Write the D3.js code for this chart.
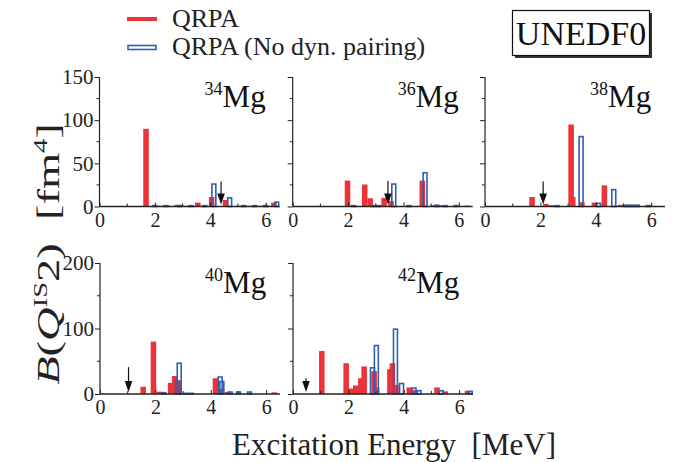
<!DOCTYPE html>
<html><head><meta charset="utf-8">
<script src="https://cdn.jsdelivr.net/npm/d3@7"></script>
<style>
html,body{margin:0;padding:0;background:#fff;}
svg{display:block;}
svg text{font-family:"Liberation Serif","Times New Roman",serif;}
</style></head>
<body>
<script>
// ---- data (excitation energy in MeV, B(Q^IS 2) in fm^4) ----
const nuclei = ["34", "36", "38", "40", "42"];

const mg34QrpaE = [1.68, 2.2, 2.5, 2.8, 3.1, 3.55, 4.05, 4.55, 5.0, 5.4, 5.8, 6.3];
const mg34QrpaB = [90, 0.8, 0.8, 2, 0.8, 4.5, 11, 7.5, 0.8, 0.8, 0.8, 4.5];
const mg34NoDynE = [2.0, 2.4, 2.9, 3.3, 3.8, 4.13, 4.7, 5.2, 5.6, 6.0, 6.4];
const mg34NoDynB = [1, 1, 1, 1, 1, 26, 10, 1, 1, 1, 5];

const mg36QrpaE = [1.98, 2.6, 2.8, 3.3, 3.55, 4.68, 5.1, 5.3, 6.3];
const mg36QrpaB = [30, 25.5, 9.5, 10, 6.5, 30, 1.5, 1.5, 1];
const mg36NoDynE = [2.2, 2.9, 3.1, 3.65, 4.2, 4.78, 5.2, 5.5, 5.9];
const mg36NoDynB = [1, 1, 1, 26, 1, 39, 1.5, 1, 1];

const mg38QrpaE = [1.7, 2.2, 2.4, 3.11, 3.17, 3.5, 3.95, 4.31, 4.9];
const mg38QrpaB = [11, 3, 1.5, 95, 11, 5, 4.5, 24.5, 2];
const mg38NoDynE = [2.6, 3.47, 4.1, 4.65, 5.1, 5.3, 5.5, 5.9];
const mg38NoDynB = [1, 81, 3.7, 19.5, 1.5, 1.5, 1.5, 1];

const mg40QrpaE = [1.56, 1.93, 2.15, 2.55, 2.7, 2.85, 4.17, 4.35, 4.6, 6.3];
const mg40QrpaB = [11, 80, 3.5, 17, 27.5, 19, 24, 8, 3, 2.5];
const mg40NoDynE = [2.3, 2.8, 2.86, 3.1, 3.3, 4.34, 4.4, 4.7, 5.0, 5.4];
const mg40NoDynB = [2, 20, 47, 1, 1, 26, 19, 3, 3, 3];

const mg42QrpaE = [1.04, 1.92, 2.1, 2.27, 2.45, 2.57, 2.93, 3.02, 3.5, 3.59, 3.72, 4.2, 4.4, 5.2, 5.5, 6.3];
const mg42QrpaB = [65.6, 47, 8.5, 13, 24, 42, 35, 10, 38, 47, 14, 10, 6, 10, 4, 5];
const mg42NoDynE = [2.87, 3.01, 3.7, 3.92, 4.37, 4.55, 5.35, 6.4];
const mg42NoDynB = [40, 74, 99, 16, 9, 5, 5, 4];

// arrows: energy and top of arrow (in fm^4)
const arrowE = [4.39, 3.44, 2.1, 1.03, 0.47];
const arrowTop = [29, 29.5, 29, 41, 24];

const xTicks = [0, 2, 4, 6];
const xMinorTicks = [1, 3, 5];
const yTicksTop = [0, 50, 100, 150];
const yMinorTop = [25, 75, 125];
const yTicksBottom = [0, 100, 200];
const yMinorBottom = [50, 150];

const legendLabels = ["QRPA", "QRPA (No dyn. pairing)"];
const modelLabel = "UNEDF0";

// ---- layout ----
const W = 687, H = 462;
const RED = "#ee3338", BLUE = "#2e5fb4", INK = "#222";
const SERIF = "'Liberation Serif','Times New Roman',serif";
const panelW = 180;
const panels = [
  {x: 99.5, y0: 206.5, yTop: 77, max: 150, labels: true, ticks: yTicksTop, minor: yMinorTop, qE: mg34QrpaE, qB: mg34QrpaB, nE: mg34NoDynE, nB: mg34NoDynB},
  {x: 292.7, y0: 206.5, yTop: 77, max: 150, labels: false, ticks: yTicksTop, minor: yMinorTop, qE: mg36QrpaE, qB: mg36QrpaB, nE: mg36NoDynE, nB: mg36NoDynB},
  {x: 485, y0: 206.5, yTop: 77, max: 150, labels: false, ticks: yTicksTop, minor: yMinorTop, qE: mg38QrpaE, qB: mg38QrpaB, nE: mg38NoDynE, nB: mg38NoDynB},
  {x: 100, y0: 394, yTop: 263, max: 200, labels: true, ticks: yTicksBottom, minor: yMinorBottom, qE: mg40QrpaE, qB: mg40QrpaB, nE: mg40NoDynE, nB: mg40NoDynB},
  {x: 293, y0: 394, yTop: 263, max: 200, labels: false, ticks: yTicksBottom, minor: yMinorBottom, qE: mg42QrpaE, qB: mg42QrpaB, nE: mg42NoDynE, nB: mg42NoDynB}
];

const svg = d3.select("body").append("svg").attr("width", W).attr("height", H);
const barW = 0.2;

panels.forEach((p, i) => {
  const x = d3.scaleLinear().domain([0, 6.5]).range([0, panelW]);
  const y = d3.scaleLinear().domain([0, p.max]).range([p.y0 - p.yTop, 0]);
  const g = svg.append("g").attr("transform", `translate(${p.x},${p.yTop})`);
  const h = p.y0 - p.yTop;

  // red filled bars
  g.selectAll("rect.q").data(p.qE.map((e, k) => ({e, b: p.qB[k]}))).join("rect")
    .attr("x", d => x(d.e - barW / 2)).attr("width", x(barW) - x(0))
    .attr("y", d => y(d.b)).attr("height", d => h - y(d.b))
    .attr("fill", RED);
  // blue outlined bars
  g.selectAll("rect.n").data(p.nE.map((e, k) => ({e, b: p.nB[k]}))).join("rect")
    .attr("x", d => x(d.e - barW / 2) + 0.8).attr("width", x(barW) - x(0) - 1.6)
    .attr("y", d => y(d.b)).attr("height", d => Math.max(0.5, h - y(d.b)))
    .attr("fill", "none").attr("stroke", BLUE).attr("stroke-width", 1.6);

  // y axis
  const ya = d3.axisLeft(y).tickValues(p.ticks).tickSize(5).tickPadding(1)
    .tickFormat(p.labels ? d3.format("d") : () => "");
  const yg = g.append("g").call(ya).attr("font-family", null);
  yg.select(".domain").attr("stroke", INK).attr("stroke-width", 1.2).attr("d", `M0,${h}V0`);
  yg.selectAll(".tick line").attr("stroke", INK).attr("stroke-width", 1);
  yg.selectAll(".tick text").style("font-size", "21px").style("font-family", SERIF).attr("fill", INK);
  g.append("g").selectAll("line").data(p.minor).join("line")
    .attr("x1", -3).attr("x2", 0).attr("y1", d => y(d)).attr("y2", d => y(d))
    .attr("stroke", INK).attr("stroke-width", 1);

  // x axis
  const xa = d3.axisBottom(x).tickValues(xTicks).tickSize(-4).tickPadding(6).tickFormat(d3.format("d"));
  const xg = g.append("g").attr("transform", `translate(0,${h})`).call(xa).attr("font-family", null);
  xg.select(".domain").attr("stroke", INK).attr("stroke-width", 1.4).attr("d", `M0,0H${x(6.5)}`);
  xg.selectAll(".tick line").attr("stroke", INK).attr("stroke-width", 1);
  xg.selectAll(".tick text").style("font-size", "20px").style("font-family", SERIF).attr("fill", INK);
  xg.selectAll("line.minor").data(xMinorTicks).join("line").attr("class", "minor")
    .attr("x1", d => x(d)).attr("x2", d => x(d)).attr("y1", -3).attr("y2", 0)
    .attr("stroke", INK).attr("stroke-width", 1);

  // arrow
  const ax = x(arrowE[i]);
  const yTopA = y(arrowTop[i]);
  const tip = h - 2;
  g.append("line").attr("x1", ax).attr("x2", ax).attr("y1", yTopA).attr("y2", tip - 8)
    .attr("stroke", "#111").attr("stroke-width", 1.2);
  g.append("path").attr("d", `M${ax - 3.8},${tip - 11}L${ax + 3.8},${tip - 11}L${ax},${tip}Z`).attr("fill", "#111");

  // nucleus label
  const t = g.append("text").attr("x", x(6)).attr("y", 30).attr("text-anchor", "end").attr("fill", "#111");
  t.append("tspan").text(nuclei[i]).attr("font-size", 18).attr("dy", -12);
  t.append("tspan").text("Mg").attr("font-size", 31).attr("dy", 12);
});

// legend
const lg = svg.append("g");
lg.append("line").attr("x1", 127).attr("x2", 157).attr("y1", 19).attr("y2", 19).attr("stroke", RED).attr("stroke-width", 4);
lg.append("rect").attr("x", 128).attr("y", 45.5).attr("width", 28).attr("height", 4).attr("fill", "none").attr("stroke", BLUE).attr("stroke-width", 1.6);
lg.selectAll("text").data(legendLabels).join("text")
  .attr("x", 172).attr("y", (d, k) => 27 + k * 28).attr("font-size", 26).attr("fill", INK).text(d => d);

// model box with shadow
svg.append("rect").attr("x", 515).attr("y", 13).attr("width", 137).attr("height", 45).attr("fill", "#333");
svg.append("rect").attr("x", 512.5).attr("y", 10.5).attr("width", 137).attr("height", 45).attr("fill", "#fff").attr("stroke", "#111").attr("stroke-width", 1.2);
svg.append("text").attr("x", 581).attr("y", 45).attr("text-anchor", "middle").attr("font-size", 34).attr("fill", "#111").text(modelLabel);

// axis titles
svg.append("text").attr("x", 394).attr("y", 455).attr("text-anchor", "middle").attr("font-size", 31).attr("fill", INK)
  .text("Excitation Energy\u00a0\u00a0[MeV]");

const yt = svg.append("text").attr("transform", "translate(59,254) rotate(-90) scale(1.5,1)").attr("text-anchor", "middle")
  .attr("font-size", 31).attr("fill", INK);
yt.append("tspan").text("B").attr("font-style", "italic");
yt.append("tspan").text("(");
yt.append("tspan").text("Q").attr("font-style", "italic");
yt.append("tspan").text("IS").attr("font-size", 19).attr("dy", -12);
yt.append("tspan").text("2)").attr("dy", 12);
yt.append("tspan").text("\u00a0\u00a0[fm");
yt.append("tspan").text("4").attr("font-size", 19).attr("dy", -12);
yt.append("tspan").text("]").attr("dy", 12);
</script>
</body></html>
